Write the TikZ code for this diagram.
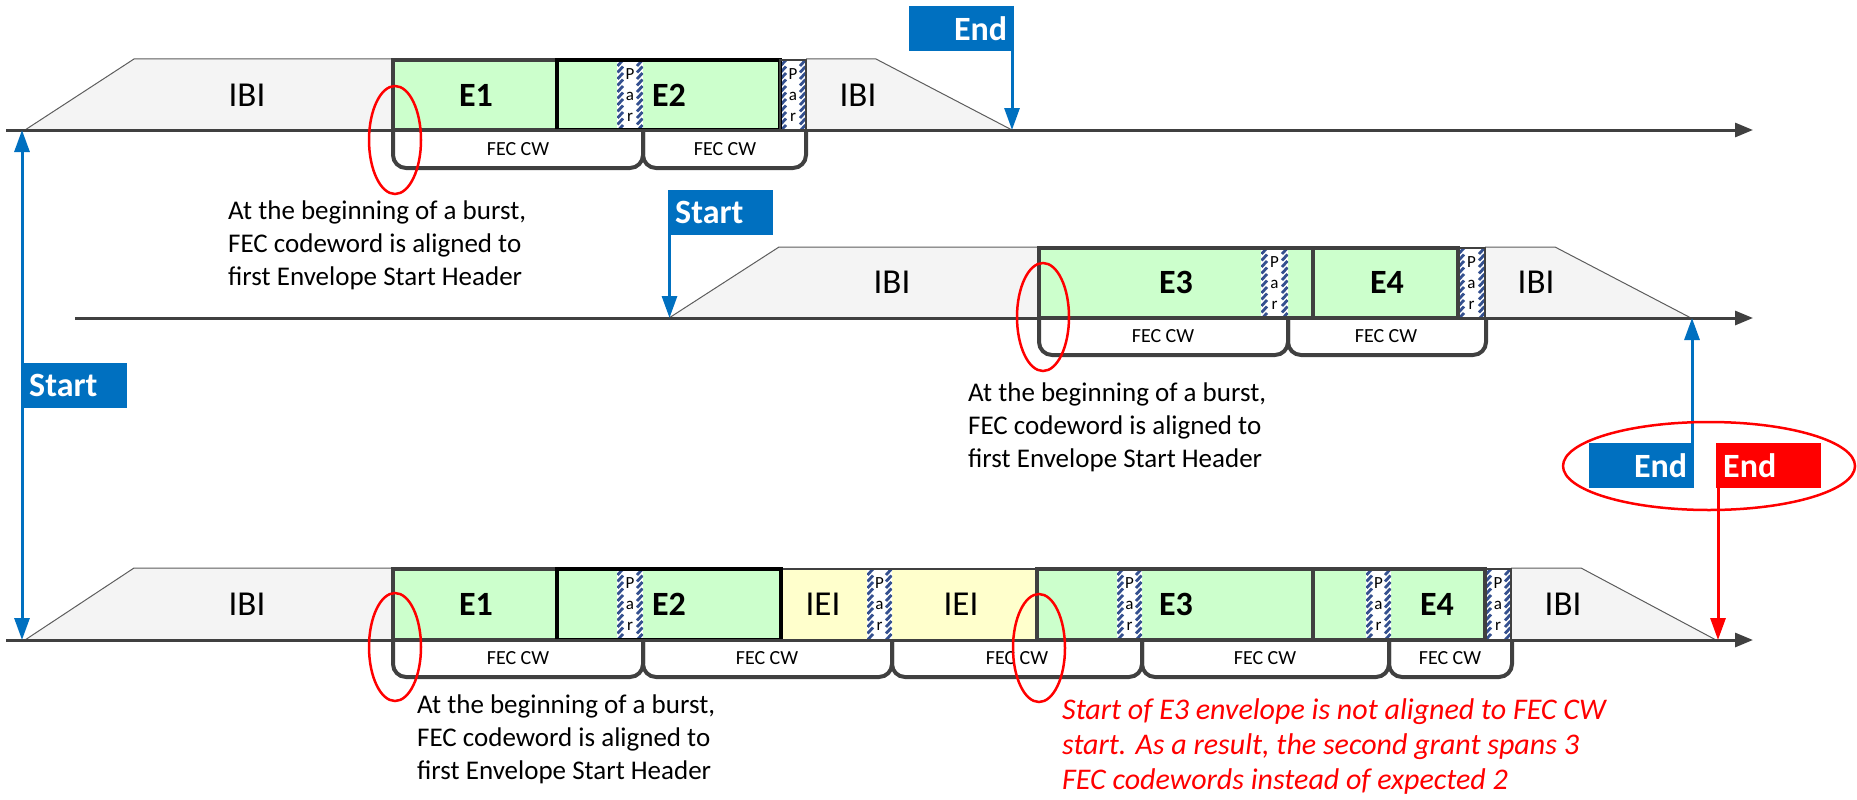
\documentclass[tikz,border=0pt]{standalone}
\usepackage{fontspec}
\setmainfont{Carlito}
\usetikzlibrary{arrows.meta}

\definecolor{flagblue}{HTML}{0070C0}
\definecolor{envgreen}{HTML}{CCFFCC}
\definecolor{ieiyellow}{HTML}{FFFFCC}
\definecolor{ink}{HTML}{404040}
\definecolor{ibifill}{HTML}{F4F4F4}
\definecolor{parblue}{HTML}{34508F}
\definecolor{alertred}{HTML}{FF0000}

\tikzset{
  timeline/.style={draw=ink, line width=3pt, -{Triangle[length=18pt,width=14pt]}},
  ibiedge/.style={draw=ink!85, line width=1pt},
  envgray/.style={draw=ink, line width=4pt},
  envblack/.style={draw=black, line width=4pt},
  thinedge/.style={draw=ink, line width=1.2pt},
  fecbracket/.style={draw=ink, line width=4pt, rounded corners=13pt},
  gaplbl/.style={font=\fontsize{35}{40}\selectfont, inner sep=0pt},
  envlbl/.style={font=\bfseries\fontsize{34}{40}\selectfont, inner sep=0pt},
  feclbl/.style={font=\fontsize{20}{24}\selectfont, inner sep=0pt},
  parlbl/.style={font=\fontsize{17}{21}\selectfont, align=center, inner sep=0pt},
  % multi-line notes are placed by the baseline of their last line
  notetext/.style={font=\fontsize{27}{33}\selectfont, align=left, anchor=base west, inner sep=0pt},
  rednotetext/.style={notetext, text=alertred, font=\itshape\fontsize{30}{35}\selectfont},
  flagbox/.style={fill=#1, text=white, font=\bfseries\fontsize{34}{40}\selectfont,
    minimum height=45pt, inner ysep=0pt, inner xsep=7pt, text width=91pt, anchor=north west},
  markline/.style={line width=3pt},
  ringmark/.style={draw=alertred, line width=2.5pt},
}

% parity cell: name, left x, right x, top y (cell is 70 high)
\newcommand\ParCell[4]{%
  \fill[white] (#2,#4) rectangle (#3,#4+70);
  \begin{scope}
    \clip (#2,#4) rectangle (#3,#4+70);
    \foreach \k in {0,...,11}{
      \draw[parblue, line width=2.8pt] (#2+0.5,#4+6.5*\k+6) -- ++(5.5,-6);
      \draw[parblue, line width=2.8pt] (#3-6,#4+6.5*\k+6) -- ++(5.5,-6);
    }
  \end{scope}
  \node[parlbl] (#1) at ({(#2+#3)/2},#4+35) {P\\a\\r};
}

\begin{document}
\begin{tikzpicture}[x=1pt,y=-1pt]
\useasboundingbox (0,0) rectangle (1857,800);

% ---------------- first burst ----------------
\fill[ibifill] (25,130) -- (134,59) -- (393,59) -- (393,130) -- cycle;
\draw[ibiedge] (25,130) -- (134,59) -- (393,59);
\fill[ibifill] (806,59) -- (876,59) -- (1012,130) -- (806,130) -- cycle;
\draw[ibiedge] (806,59) -- (876,59) -- (1012,130);

\fill[envgreen] (393,60) rectangle (806,130);
\ParCell{parA1}{617}{643}{60}
\ParCell{parA2}{780}{806}{60}
\draw[envgray] (393,60) rectangle (557,130);
\draw[envblack] (557,60) rectangle (780,130);
\draw[thinedge] (780,60) rectangle (806,130);

\coordinate (tlAstart) at (6,130);
\coordinate (tlAend) at (1753,130);
\draw[timeline] (tlAstart) -- (tlAend);

\draw[fecbracket] (393,130) -- (393,168) -- (643,168) -- (643,130);
\draw[fecbracket] (643,130) -- (643,168) -- (806,168) -- (806,130);
\node[feclbl] (fecA1) at (518,149) {FEC CW};
\node[feclbl] (fecA2) at (725,149) {FEC CW};

\node[gaplbl] (ibiA1) at (247,95) {IBI};
\node[envlbl] (eA1) at (476,95) {E1};
\node[envlbl] (eA2) at (669,95) {E2};
\node[gaplbl] (ibiA2) at (858,95) {IBI};

\draw[ringmark] (395,140) ellipse [x radius=26pt, y radius=54pt];
\node[notetext] (noteA) at (228,285) {At the beginning of a burst,\\FEC codeword is aligned to\\first Envelope Start Header};

% ---------------- second burst ----------------
\fill[ibifill] (669,318) -- (779,247) -- (1039,247) -- (1039,318) -- cycle;
\draw[ibiedge] (669,318) -- (779,247) -- (1039,247);
\fill[ibifill] (1485,247) -- (1555,247) -- (1691,318) -- (1485,318) -- cycle;
\draw[ibiedge] (1485,247) -- (1555,247) -- (1691,318);

\fill[envgreen] (1039,248) rectangle (1485,318);
\ParCell{parB1}{1261}{1288}{248}
\ParCell{parB2}{1458}{1485}{248}
\draw[envgray] (1039,248) rectangle (1313,318);
\draw[envgray] (1313,248) rectangle (1458,318);
\draw[thinedge] (1458,248) rectangle (1485,318);

\coordinate (tlBstart) at (75,318);
\coordinate (tlBend) at (1753,318);
\draw[timeline] (tlBstart) -- (tlBend);

\draw[fecbracket] (1039,318) -- (1039,355) -- (1288,355) -- (1288,318);
\draw[fecbracket] (1288,318) -- (1288,355) -- (1486,355) -- (1486,318);
\node[feclbl] (fecB1) at (1163,336) {FEC CW};
\node[feclbl] (fecB2) at (1386,336) {FEC CW};

\node[gaplbl] (ibiB1) at (892,282) {IBI};
\node[envlbl] (eB3) at (1176,282) {E3};
\node[envlbl] (eB4) at (1387,282) {E4};
\node[gaplbl] (ibiB2) at (1536,282) {IBI};

\draw[ringmark] (1043,317) ellipse [x radius=26pt, y radius=54pt];
\node[notetext] (noteB) at (968,467) {At the beginning of a burst,\\FEC codeword is aligned to\\first Envelope Start Header};

% ---------------- merged burst ----------------
\fill[ibifill] (25,640) -- (134,568) -- (393,568) -- (393,640) -- cycle;
\draw[ibiedge] (25,640) -- (134,568) -- (393,568);
\fill[ibifill] (1511,568) -- (1581,568) -- (1716,640) -- (1511,640) -- cycle;
\draw[ibiedge] (1511,568) -- (1581,568) -- (1716,640);

\fill[envgreen] (393,569) rectangle (781,640);
\fill[ieiyellow] (781,569) rectangle (1037,640);
\fill[envgreen] (1037,569) rectangle (1485,640);
\ParCell{parC1}{617}{643}{569}
\ParCell{parC2}{867}{892}{569}
\ParCell{parC3}{1117}{1142}{569}
\ParCell{parC4}{1366}{1391}{569}
\ParCell{parC5}{1485}{1511}{569}
\draw[thinedge] (781,569) -- (1037,569);
\draw[envgray] (393,569) rectangle (557,640);
\draw[envblack] (557,569) rectangle (781,640);
\draw[envgray] (1037,569) rectangle (1313,640);
\draw[envgray] (1313,569) rectangle (1485,640);
\draw[thinedge] (1485,569) rectangle (1511,640);

\coordinate (tlCstart) at (6,640);
\coordinate (tlCend) at (1753,640);
\draw[timeline] (tlCstart) -- (tlCend);

\draw[fecbracket] (393,640) -- (393,677) -- (643,677) -- (643,640);
\draw[fecbracket] (643,640) -- (643,677) -- (892,677) -- (892,640);
\draw[fecbracket] (892,640) -- (892,677) -- (1142,677) -- (1142,640);
\draw[fecbracket] (1142,640) -- (1142,677) -- (1389,677) -- (1389,640);
\draw[fecbracket] (1389,640) -- (1389,677) -- (1512,677) -- (1512,640);
\node[feclbl] (fecC1) at (518,658) {FEC CW};
\node[feclbl] (fecC2) at (767,658) {FEC CW};
\node[feclbl] (fecC3) at (1017,658) {FEC CW};
\node[feclbl] (fecC4) at (1265,658) {FEC CW};
\node[feclbl] (fecC5) at (1450,658) {FEC CW};

\node[gaplbl] (ibiC1) at (247,604) {IBI};
\node[envlbl] (eC1) at (476,604) {E1};
\node[envlbl] (eC2) at (669,604) {E2};
\node[gaplbl] (ieiC1) at (823,604) {IEI};
\node[gaplbl] (ieiC2) at (961,604) {IEI};
\node[envlbl] (eC3) at (1176,604) {E3};
\node[envlbl] (eC4) at (1437,604) {E4};
\node[gaplbl] (ibiC2) at (1563,604) {IBI};

\draw[ringmark] (395,647) ellipse [x radius=26pt, y radius=54pt];
\draw[ringmark] (1039,648) ellipse [x radius=26pt, y radius=54pt];
\node[notetext] (noteC) at (417,779) {At the beginning of a burst,\\FEC codeword is aligned to\\first Envelope Start Header};
\node[rednotetext] (noteD) at (1062,789) {Start of E3 envelope is not aligned to FEC CW\\start. As a result, the second grant spans 3\\FEC codewords instead of expected 2};

% ---------------- start / end markers ----------------
\coordinate (startTop) at (22,130);
\coordinate (startBot) at (22,640);
\draw[markline, flagblue, {Triangle[length=22pt,width=15pt]}-{Triangle[length=22pt,width=15pt]}] (startTop) -- (startBot);
\node[flagbox=flagblue, align=left] (startC) at (22,363) {Start};

\node[flagbox=flagblue, align=right] (endA) at (909,6) {End};
\coordinate (endAtip) at (1012,130);
\draw[markline, flagblue, -{Triangle[length=22pt,width=15pt]}] (endA.north east -| endAtip) -- (endAtip);

\node[flagbox=flagblue, align=left] (startB) at (668,190) {Start};
\coordinate (startBtip) at (669.5,318);
\draw[markline, flagblue, -{Triangle[length=22pt,width=15pt]}] (startB.north west -| startBtip) -- (startBtip);

\node[flagbox=flagblue, align=right] (endB) at (1589,443) {End};
\coordinate (endBtip) at (1692,318);
\draw[markline, flagblue, -{Triangle[length=22pt,width=15pt]}] (endB.north east -| endBtip) -- (endBtip);

\node[flagbox=alertred, align=left] (endC) at (1716,443) {End};
\coordinate (endCtip) at (1718,640);
\draw[markline, alertred, -{Triangle[length=22pt,width=15pt]}] (endC.north west -| endCtip) -- (endCtip);

\draw[ringmark] (1709,466) ellipse [x radius=146pt, y radius=44pt];
\end{tikzpicture}
\end{document}
